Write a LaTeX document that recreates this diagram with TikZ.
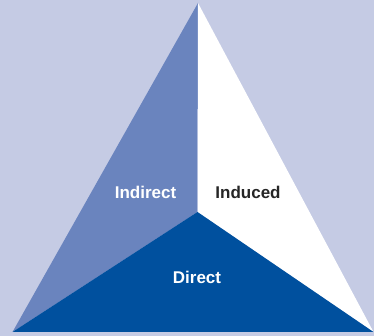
\documentclass[tikz,border=0pt]{standalone}
\usepackage{fontspec}
\setmainfont{Liberation Sans}
\definecolor{bgc}{RGB}{197,203,228}
\definecolor{midb}{RGB}{106,132,190}
\definecolor{darkb}{RGB}{0,80,158}
\tikzset{lbl/.style={font=\bfseries\fontsize{17}{20}\selectfont, anchor=base, inner sep=0pt}}
\begin{document}
\begin{tikzpicture}[x=1pt,y=1pt]
\fill[bgc] (0,0) rectangle (374,336);
\useasboundingbox (0,0) rectangle (374,336);
\coordinate (A) at (198,333);
\coordinate (L) at (12.5,4);
\coordinate (R) at (373.5,4);
\coordinate (C) at (197.5,124);
\fill[midb] (A) -- (L) -- (C) -- cycle;
\fill[white] (A) -- (C) -- (R) -- cycle;
\fill[darkb] (L) -- (R) -- (C) -- cycle;
\node[lbl, text=white] (indirect) at (145.5,137) {Indirect};
\node[lbl, text=black!85] (induced) at (248,137) {Induced};
\node[lbl, text=white] (direct) at (197,52) {Direct};
\end{tikzpicture}
\end{document}
